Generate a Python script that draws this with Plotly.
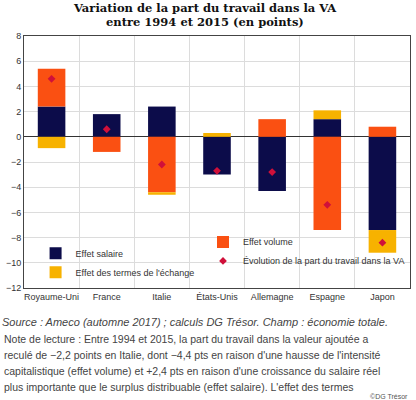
import plotly.graph_objects as go

countries = ["Royaume-Uni", "France", "Italie", "États-Unis", "Allemagne", "Espagne", "Japon"]
effet_salaire = [2.4, 1.8, 2.4, -3.0, -4.3, 1.4, -7.4]
effet_volume = [3.0, -1.2, -4.4, 0.0, 1.4, -7.4, 0.8]
effet_termes = [-0.9, 0.0, -0.2, 0.3, 0.0, 0.7, -1.8]
evolution_va = [4.6, 0.6, -2.2, -2.7, -2.8, -5.4, -8.4]
y_ticks = [-12, -10, -8, -6, -4, -2, 0, 2, 4, 6, 8]

NAVY = "#0c0c4a"
ORANGE = "#fa5012"
YELLOW = "#f7b200"
RED = "#d0103a"

W, H = 416, 400
T, B, L, R = 36, 112, 24, 6
PH = H - T - B


def py(px):
    return (H - B - px) / PH


fig = go.Figure()
fig.add_trace(go.Bar(x=countries, y=effet_salaire, name="Effet salaire",
                     marker=dict(color=NAVY, line=dict(width=0)), legend="legend"))
fig.add_trace(go.Bar(x=countries, y=effet_volume, name="Effet volume",
                     marker=dict(color=ORANGE, line=dict(width=0)), legend="legend2"))
fig.add_trace(go.Bar(x=countries, y=effet_termes, name="Effet des termes de l'échange",
                     marker=dict(color=YELLOW, line=dict(width=0)), legend="legend"))
fig.add_trace(go.Scatter(x=countries, y=evolution_va, mode="markers",
                         name="Évolution de la part du travail dans la VA",
                         marker=dict(symbol="diamond", size=6, color=RED),
                         legend="legend2"))

fig.update_layout(
    width=W, height=H, autosize=False,
    margin=dict(t=T, b=B, l=L, r=R),
    barmode="relative", bargap=0.5,
    plot_bgcolor="white", paper_bgcolor="white",
    font=dict(family="Liberation Sans, Arial, sans-serif", size=10, color="#333333"),
    showlegend=True,
    legend=dict(x=0.03, xanchor="left", y=0.005, yanchor="bottom", bgcolor="rgba(0,0,0,0)",
                font=dict(size=9, color="#333333"), tracegroupgap=0, itemwidth=30,
                traceorder="normal"),
    legend2=dict(x=1.0, xanchor="right", y=0.05, yanchor="bottom", bgcolor="rgba(0,0,0,0)",
                 font=dict(size=9, color="#333333"), tracegroupgap=0, itemwidth=30,
                 traceorder="normal"),
)

fig.update_xaxes(type="category", tickson="boundaries", showgrid=True, gridcolor="#dcdcdc",
                 gridwidth=1, showline=True, linecolor="#444444", linewidth=1, mirror=True,
                 ticks="", tickangle=0, tickfont=dict(size=9, color="#333333"))
fig.update_yaxes(range=[-12, 8], tickvals=y_ticks, showgrid=True, gridcolor="#dcdcdc",
                 gridwidth=1, zeroline=True, zerolinecolor="#333333", zerolinewidth=1.3,
                 showline=True, linecolor="#444444", linewidth=1, mirror=True,
                 ticks="", tickfont=dict(size=9, color="#333333"))

title_lines = ["Variation de la part du travail dans la VA", "entre 1994 et 2015 (en points)"]
for i, line in enumerate(title_lines):
    fig.add_annotation(text="<b>" + line + "</b>", xref="paper", yref="paper", x=0.47,
                       xanchor="center", y=py(8 + 14 * i), yanchor="middle", showarrow=False,
                       font=dict(family="DejaVu Serif, serif", size=11.5, color="#111111"))

source = "<i>Source : Ameco (automne 2017) ; calculs DG Trésor. Champ : économie totale.</i>"
note_lines = [
    "Note de lecture : Entre 1994 et 2015, la part du travail dans la valeur ajoutée a",
    "reculé de −2,2 points en Italie, dont −4,4 pts en raison d'une hausse de l'intensité",
    "capitalistique (effet volume) et +2,4 pts en raison d'une croissance du salaire réel",
    "plus importante que le surplus distribuable (effet salaire). L'effet des termes",
]

fig.add_annotation(text=source, xref="paper", yref="paper", x=-L / (W - L - R), xanchor="left",
                   y=py(322), yanchor="middle", showarrow=False,
                   font=dict(size=11, color="#444444"))
for i, line in enumerate(note_lines):
    fig.add_annotation(text=line, xref="paper", yref="paper", x=-L / (W - L - R) + 0.005,
                       xanchor="left", y=py(339 + 16 * i), yanchor="middle", showarrow=False,
                       font=dict(size=10.5, color="#444444"))
fig.add_annotation(text="©DG Trésor", xref="paper", yref="paper", x=1.0, xanchor="right",
                   y=py(396), yanchor="middle", showarrow=False,
                   font=dict(size=7, color="#555555"))

fig.write_html("out.html")
